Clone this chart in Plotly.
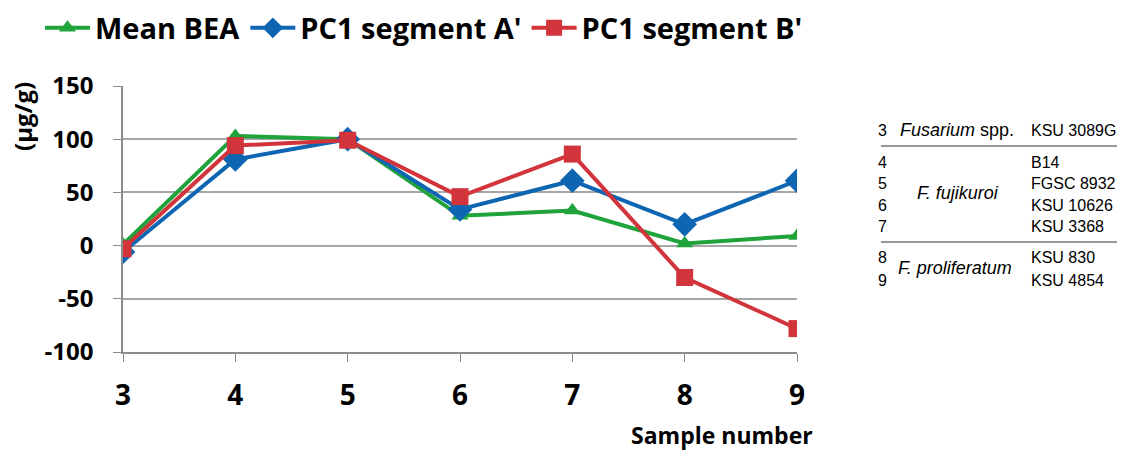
import plotly.graph_objects as go

samples = [3, 4, 5, 6, 7, 8, 9]
mean_bea = [1, 103, 100, 28, 33, 2, 9]
pc1_a = [-6, 81, 100, 34, 61, 20, 61]
pc1_b = [-3, 94, 99, 46, 86, -30, -78]
y_ticks = [-100, -50, 0, 50, 100, 150]
y_tick_labels = ["-100", "-50", "0", "50", "100", "150"]

table_nums = ["3", "4", "5", "6", "7", "8", "9"]
table_strains = ["KSU 3089G", "B14", "FGSC 8932", "KSU 10626", "KSU 3368", "KSU 830", "KSU 4854"]

W, H = 1134, 452
L, R, T, B = 123, 797, 86, 352

def px(x):
    return (x - L) / (R - L)

def py(y):
    return (B - y) / (B - T)

fig = go.Figure()
series = [
    ("Mean BEA", mean_bea, "#1FA33A", "triangle-up", 15),
    ("PC1 segment A'", pc1_a, "#0E66B2", "diamond", 19),
    ("PC1 segment B'", pc1_b, "#D1343A", "square", 17),
]
for name, vals, col, sym, sz in series:
    fig.add_trace(go.Scatter(
        x=samples, y=vals, name=name, mode="lines+markers",
        line=dict(color=col, width=4),
        marker=dict(symbol=sym, size=sz, color=col),
    ))

bold = "'Open Sans', Lato, sans-serif"
fig.update_layout(
    width=W, height=H,
    margin=dict(l=L, r=W - R, t=T, b=H - B, autoexpand=False),
    plot_bgcolor="white", paper_bgcolor="white",
    font=dict(family=bold, color="black"),
    showlegend=True,
    legend=dict(orientation="h", x=px(40), y=py(28), xanchor="left", yanchor="middle",
                font=dict(size=29, family=bold, weight="bold"), itemwidth=45,
                tracegroupgap=0, bgcolor="rgba(0,0,0,0)"),
    xaxis=dict(range=[3, 9], tickvals=samples, ticktext=[str(s) for s in samples],
               showgrid=False, zeroline=False, showline=True, linecolor="#8C8C8C", linewidth=1.5,
               ticks="outside", ticklen=8, tickcolor="#8C8C8C", automargin=False,
               ticklabelstandoff=10,
               tickfont=dict(size=28, weight="bold"), fixedrange=True),
    yaxis=dict(range=[-100, 150], tickvals=y_ticks, ticktext=y_tick_labels,
               showgrid=True, gridcolor="#A6A6A6", gridwidth=1.5,
               zeroline=False, showline=True, linecolor="#8C8C8C", linewidth=1.5,
               ticks="outside", ticklen=8, tickcolor="#8C8C8C", automargin=False,
               ticklabelstandoff=15,
               tickfont=dict(size=24, weight="bold"), fixedrange=True),
)

ann = []
ann.append(dict(text="(µg/g)", x=px(23), y=py(117), xref="paper", yref="paper",
                xanchor="center", yanchor="middle",
                textangle=-90, showarrow=False, font=dict(size=24, weight="bold", family=bold)))
ann.append(dict(text="Sample number", x=px(815), y=py(435), xref="paper", yref="paper",
                xanchor="right", yanchor="middle",
                showarrow=False, font=dict(size=23, weight="bold", family=bold)))

tf = "'Liberation Sans', Arial, sans-serif"
row_y = [130, 162, 183, 205, 226, 257, 280]
for n, s, yy in zip(table_nums, table_strains, row_y):
    ann.append(dict(text=n, x=px(876), y=py(yy), xref="paper", yref="paper",
                    xanchor="left", yanchor="middle",
                    showarrow=False, font=dict(size=16, family=tf)))
    ann.append(dict(text=s, x=px(1029), y=py(yy), xref="paper", yref="paper",
                    xanchor="left", yanchor="middle",
                    showarrow=False, font=dict(size=16, family=tf)))
ann.append(dict(text="<i>Fusarium</i> spp.", x=px(898), y=py(130), xref="paper", yref="paper",
                xanchor="left", yanchor="middle", showarrow=False, font=dict(size=18, family=tf)))
ann.append(dict(text="<i>F. fujikuroi</i>", x=px(915), y=py(193), xref="paper", yref="paper",
                xanchor="left", yanchor="middle", showarrow=False, font=dict(size=18, family=tf)))
ann.append(dict(text="<i>F. proliferatum</i>", x=px(896), y=py(268), xref="paper", yref="paper",
                xanchor="left", yanchor="middle", showarrow=False, font=dict(size=18, family=tf)))
fig.update_layout(annotations=ann)

fig.update_layout(shapes=[
    dict(type="line", xref="paper", yref="paper", x0=px(881), x1=px(1117), y0=py(146), y1=py(146),
         line=dict(color="#333333", width=1.2)),
    dict(type="line", xref="paper", yref="paper", x0=px(881), x1=px(1117), y0=py(242), y1=py(242),
         line=dict(color="#333333", width=1.2)),
])

fig.write_html("out.html", config={"displayModeBar": False},
               post_script="document.body.style.margin='0';")
